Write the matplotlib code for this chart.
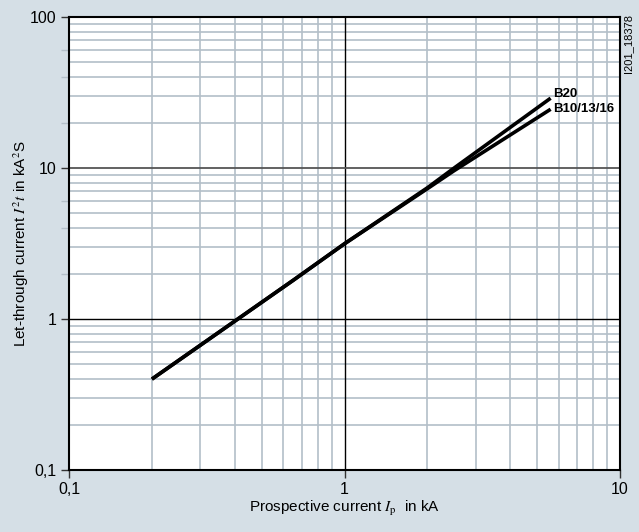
import matplotlib.pyplot as plt
from matplotlib.ticker import FixedLocator, FixedFormatter, NullFormatter

# Let-through I2t curves
current_b20 = [0.2, 0.65, 1.0, 2.0, 2.5, 5.6]
i2t_b20 = [0.4, 1.8, 3.15, 7.4, 10.0, 29.0]

current_b10 = [0.2, 0.65, 1.0, 2.0, 2.5, 5.6]
i2t_b10 = [0.4, 1.8, 3.15, 7.3, 9.6, 24.5]

x_ticks = [0.1, 1, 10]
x_labels = ['0,1', '1', '10']
y_ticks = [0.1, 1, 10, 100]
y_labels = ['0,1', '1', '10', '100']

bg = '#d5dfe6'
grid_col = '#b3bfc8'

plt.rcParams['font.family'] = ['Arial', 'Liberation Sans', 'DejaVu Sans']
plt.rcParams['mathtext.fontset'] = 'stix'

fig = plt.figure(figsize=(6.39, 5.32), dpi=100, facecolor=bg)
ax = fig.add_axes([69 / 639, 1 - 470 / 532, (620 - 69) / 639, (470 - 17) / 532])
ax.set_facecolor('white')

ax.set_xscale('log')
ax.set_yscale('log')
ax.set_xlim(0.1, 10)
ax.set_ylim(0.1, 100)

# minor grid
minor = [m * 10.0 ** e for e in range(-1, 2) for m in range(2, 10)]
for v in minor:
    ax.axvline(v, color=grid_col, lw=1.2, zorder=1)
    ax.axhline(v, color=grid_col, lw=1.2, zorder=1)
# major grid
ax.axvline(1, color='black', lw=1.0, zorder=2)
ax.axhline(1, color='black', lw=1.0, zorder=2)
ax.axhline(10, color='#555555', lw=1.3, zorder=2)

ax.plot(current_b20, i2t_b20, color='black', lw=2.6, zorder=3,
        solid_capstyle='butt')
ax.plot(current_b10, i2t_b10, color='black', lw=2.6, zorder=3,
        solid_capstyle='butt')

ax.text(5.7, i2t_b20[-1] * 1.07, 'B20', fontsize=9.5, fontweight='bold',
        va='center', ha='left')
ax.text(5.7, i2t_b10[-1] * 1.0, 'B10/13/16', fontsize=9.5, fontweight='bold',
        va='center', ha='left')

ax.xaxis.set_major_locator(FixedLocator(x_ticks))
ax.xaxis.set_major_formatter(FixedFormatter(x_labels))
ax.xaxis.set_minor_locator(FixedLocator([]))
ax.yaxis.set_major_locator(FixedLocator(y_ticks))
ax.yaxis.set_major_formatter(FixedFormatter(y_labels))
ax.yaxis.set_minor_locator(FixedLocator([v for v in minor if str(v)[0] in '246']))
ax.yaxis.set_minor_formatter(NullFormatter())

ax.tick_params(which='major', direction='out', length=6, width=1.0,
               labelsize=11.5, color='#333333', pad=3)
ax.tick_params(which='minor', direction='out', length=6, width=1.0,
               color=grid_col)
for s in ax.spines.values():
    s.set_linewidth(1.5)
    s.set_color('black')

ax.set_xlabel('Prospective current $I_\\mathrm{p}$  in kA', fontsize=11,
              labelpad=1)
ax.set_ylabel('Let-through current $I^2t$ in kA$^2$S', fontsize=11,
              labelpad=-1)

fig.text(628 / 639, 1 - 14 / 532, 'I201_18378', rotation=90, fontsize=8,
         ha='center', va='top')

fig.savefig('out.png', dpi=100, facecolor=bg)
